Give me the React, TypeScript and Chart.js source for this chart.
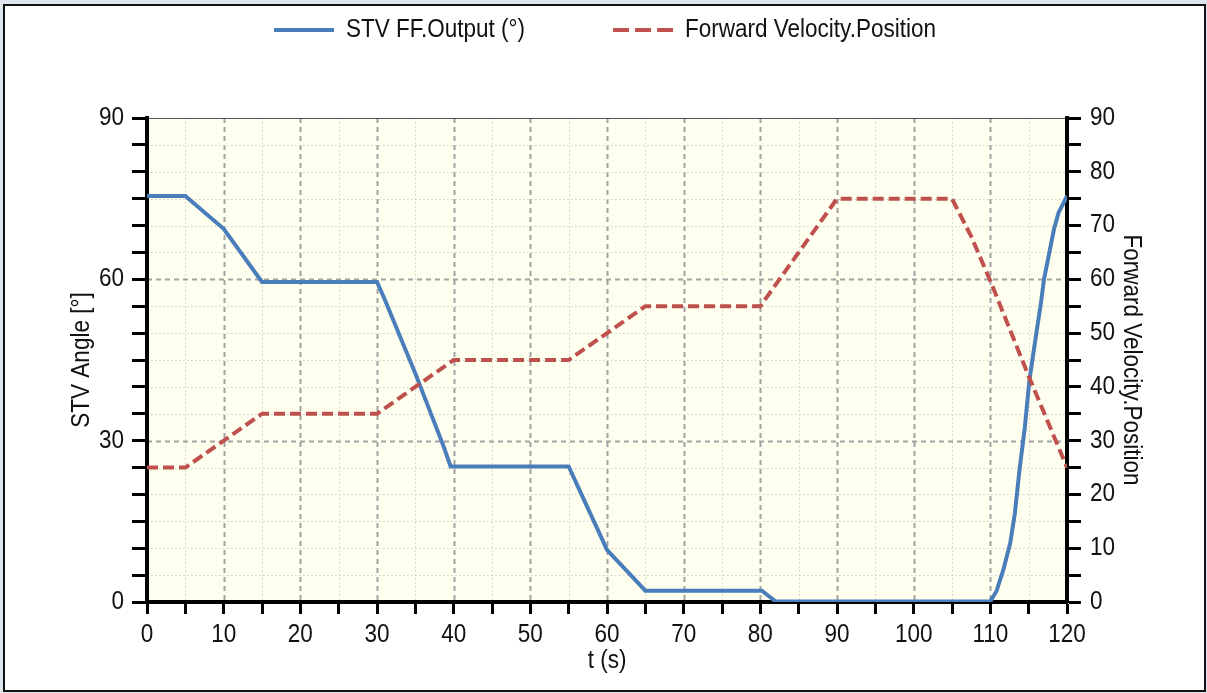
import React, { useEffect, useRef } from 'react';
import { Chart, registerables } from 'chart.js';

Chart.register(...registerables);

// ---------- data ----------
const seriesNames = ['STV FF.Output (°)', 'Forward Velocity.Position'];
const xTitle = 't (s)';
const yLeftTitle = 'STV Angle [°]';
const yRightTitle = 'Forward Velocity.Position';

const stvTime = [0, 5, 10, 15, 30, 31, 35, 38.7, 39.6, 40, 55, 57, 59, 60, 65, 80.2, 82, 110, 110.8, 111.7, 112.6, 113.2, 113.8, 114.5, 115.1, 116, 116.6, 117, 117.7, 118.3, 118.9, 120];
const stvAngle = [75.5, 75.5, 69.4, 59.5, 59.5, 56.3, 42.5, 28.9, 25.2, 25.2, 25.2, 19, 12.8, 9.7, 2.1, 2.1, 0.1, 0.1, 2, 6, 11, 16.5, 24.5, 32.5, 41.3, 50, 55.6, 60, 65, 69.3, 72.4, 75.5];

const velTime = [0, 5, 15, 30, 40, 55, 65, 80, 90, 105, 107.5, 110, 115, 120];
const velPos = [25, 25, 35, 35, 45, 45, 55, 55, 75, 75, 68, 59.7, 42, 25];

const xRange = [0, 120];
const yLeftRange = [0, 90];
const yRightRange = [0, 90];
const tickStep = 5;
const xLabelEvery = 10;
const yLeftLabelEvery = 30;
const yRightLabelEvery = 10;

const seriesColors = ['#4a7ebb', '#c0504d'];

// ---------- style ----------
const FONT = "'Liberation Sans', Arial, sans-serif";
const FS = 25;
const SX = 0.9; // horizontal text compression (reference font is narrow)
const TEXT = '#111';

function drawText(ctx: CanvasRenderingContext2D, text: string, x: number, y: number, align: CanvasTextAlign, rot = 0) {
  ctx.save();
  ctx.translate(x, y);
  ctx.rotate(rot);
  ctx.scale(SX, 1);
  ctx.textAlign = align;
  ctx.textBaseline = 'middle';
  ctx.fillStyle = TEXT;
  ctx.fillText(text, 0, 0);
  ctx.restore();
}

const framePlugin = {
  id: 'framePlugin',
  beforeDraw(chart: any) {
    const { ctx, width, height, chartArea: a, scales } = chart;
    ctx.save();
    ctx.fillStyle = '#dfe5ec';
    ctx.fillRect(0, 0, width, height);
    ctx.fillStyle = '#ffffff';
    ctx.fillRect(4, 5, 1201, 686);
    ctx.strokeStyle = '#111';
    ctx.lineWidth = 2;
    ctx.strokeRect(4, 5, 1201, 686);

    ctx.fillStyle = '#fffff0';
    ctx.fillRect(a.left, a.top, a.right - a.left, a.bottom - a.top);

    const xs = scales.x;
    const ys = scales.y;
    xs.ticks.forEach((t: any) => {
      const v = t.value;
      if (v <= xs.min || v >= xs.max) return;
      const major = v % xLabelEvery === 0;
      const px = Math.round(xs.getPixelForValue(v)) + 0.5;
      ctx.beginPath();
      ctx.setLineDash(major ? [5, 4] : [1.5, 2.5]);
      ctx.strokeStyle = major ? '#a2a2a2' : '#cdcdcd';
      ctx.lineWidth = major ? 2 : 1;
      ctx.moveTo(px, a.top);
      ctx.lineTo(px, a.bottom);
      ctx.stroke();
    });
    ys.ticks.forEach((t: any) => {
      const v = t.value;
      if (v <= ys.min || v >= ys.max) return;
      const major = v % yLeftLabelEvery === 0;
      const py = Math.round(ys.getPixelForValue(v)) + 0.5;
      ctx.beginPath();
      ctx.setLineDash(major ? [5, 4] : [1.5, 2.5]);
      ctx.strokeStyle = major ? '#a2a2a2' : '#cdcdcd';
      ctx.lineWidth = major ? 2 : 1;
      ctx.moveTo(a.left, py);
      ctx.lineTo(a.right, py);
      ctx.stroke();
    });
    ctx.setLineDash([]);
    ctx.strokeStyle = '#555';
    ctx.lineWidth = 1;
    ctx.beginPath();
    ctx.moveTo(a.left, a.top + 0.5);
    ctx.lineTo(a.right, a.top + 0.5);
    ctx.stroke();
    ctx.restore();
  },
  afterDraw(chart: any) {
    const { ctx, chartArea: a, scales } = chart;
    ctx.save();
    ctx.font = `${FS}px ${FONT}`;

    // tick labels
    const xs = scales.x, ys = scales.y, y2 = scales.y2;
    xs.ticks.forEach((t: any) => {
      if (t.value % xLabelEvery !== 0) return;
      drawText(ctx, String(t.value), xs.getPixelForValue(t.value), a.bottom + 33, 'center');
    });
    ys.ticks.forEach((t: any) => {
      if (t.value % yLeftLabelEvery !== 0) return;
      drawText(ctx, String(t.value), a.left - 23, ys.getPixelForValue(t.value), 'right');
    });
    y2.ticks.forEach((t: any) => {
      if (t.value % yRightLabelEvery !== 0) return;
      drawText(ctx, String(t.value), a.right + 23, y2.getPixelForValue(t.value), 'left');
    });

    // axis titles
    const cx = (a.left + a.right) / 2;
    const cy = (a.top + a.bottom) / 2;
    drawText(ctx, xTitle, cx, a.bottom + 59, 'center');
    drawText(ctx, yLeftTitle, a.left - 65, cy, 'center', -Math.PI / 2);
    drawText(ctx, yRightTitle, a.right + 64, cy, 'center', Math.PI / 2);

    // legend
    const ds = chart.data.datasets;
    const sw = 60, gapT = 12, gapI = 88;
    const w = ds.map((d: any) => ctx.measureText(d.label).width * SX);
    const total = w.reduce((s: number, v: number) => s + v + sw + gapT, 0) + gapI * (ds.length - 1);
    let x = 605 - total / 2;
    const y = 30;
    ds.forEach((d: any, i: number) => {
      ctx.beginPath();
      ctx.strokeStyle = d.borderColor;
      ctx.lineWidth = 4;
      ctx.setLineDash(d.borderDash && d.borderDash.length ? [16, 6] : []);
      ctx.moveTo(x, y);
      ctx.lineTo(x + sw, y);
      ctx.stroke();
      ctx.setLineDash([]);
      drawText(ctx, d.label, x + sw + gapT, y, 'left');
      x += sw + gapT + w[i] + gapI;
    });
    ctx.restore();
  },
};

export default function App() {
  const ref = useRef<HTMLCanvasElement | null>(null);
  useEffect(() => {
    if (!ref.current) return;
    document.body.style.margin = '0';
    const tickGrid = (len: number) => ({
      drawOnChartArea: false,
      drawTicks: true,
      tickLength: len,
      tickWidth: 3,
      tickColor: '#000',
    });
    const chart = new Chart(ref.current, {
      type: 'line',
      data: {
        datasets: [
          {
            label: seriesNames[0],
            data: stvTime.map((t, i) => ({ x: t, y: stvAngle[i] })),
            borderColor: seriesColors[0],
            backgroundColor: seriesColors[0],
            borderWidth: 4,
            pointRadius: 0,
            tension: 0,
            yAxisID: 'y',
            order: 1,
          },
          {
            label: seriesNames[1],
            data: velTime.map((t, i) => ({ x: t, y: velPos[i] })),
            borderColor: seriesColors[1],
            backgroundColor: seriesColors[1],
            borderWidth: 4,
            borderDash: [11, 5],
            pointRadius: 0,
            tension: 0,
            yAxisID: 'y2',
            order: 0,
          },
        ],
      },
      options: {
        responsive: false,
        animation: false,
        devicePixelRatio: 1,
        layout: { padding: { top: 118, left: 0, right: 0, bottom: 0 } },
        plugins: { legend: { display: false }, tooltip: { enabled: false } },
        scales: {
          x: {
            type: 'linear',
            min: xRange[0],
            max: xRange[1],
            ticks: { stepSize: tickStep, autoSkip: false, maxRotation: 0, display: false },
            grid: tickGrid(12),
            border: { display: true, color: '#000', width: 4 },
            afterFit: (s: any) => { s.height = 91; },
          },
          y: {
            type: 'linear',
            position: 'left',
            min: yLeftRange[0],
            max: yLeftRange[1],
            ticks: { stepSize: tickStep, autoSkip: false, display: false },
            grid: tickGrid(15),
            border: { display: true, color: '#000', width: 4 },
            afterFit: (s: any) => { s.width = 147; },
          },
          y2: {
            type: 'linear',
            position: 'right',
            min: yRightRange[0],
            max: yRightRange[1],
            ticks: { stepSize: tickStep, autoSkip: false, display: false },
            grid: tickGrid(14),
            border: { display: true, color: '#000', width: 4 },
            afterFit: (s: any) => { s.width = 140; },
          },
        },
      } as any,
      plugins: [framePlugin],
    });
    return () => chart.destroy();
  }, []);
  return (
    <div style={{ position: 'fixed', left: 0, top: 0, width: 1207, height: 693 }}>
      <canvas ref={ref} width={1207} height={693} style={{ display: 'block' }} />
    </div>
  );
}
